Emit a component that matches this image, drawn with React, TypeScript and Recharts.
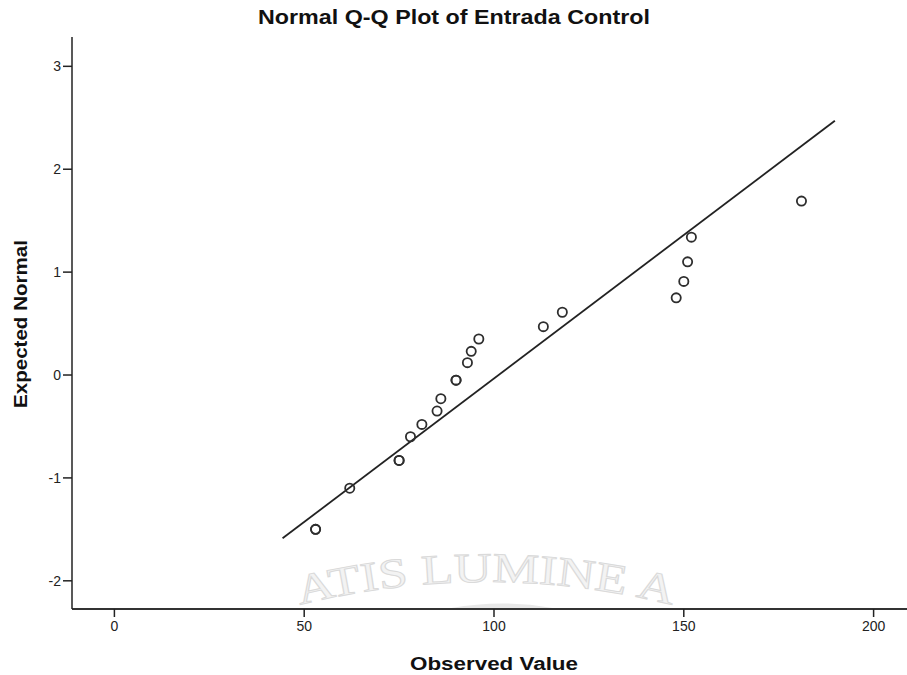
import React from 'react';
import { ScatterChart, Scatter, XAxis, YAxis, Label } from 'recharts';

// Observed values (x) and expected normal values (y)
const observedValues = [53, 53, 62, 75, 75, 78, 81, 85, 86, 90, 90, 93, 94, 96, 113, 118, 148, 150, 151, 152, 181];
const expectedNormal = [-1.5, -1.5, -1.1, -0.83, -0.83, -0.6, -0.48, -0.35, -0.23, -0.05, -0.05, 0.12, 0.23, 0.35, 0.47, 0.61, 0.75, 0.91, 1.1, 1.34, 1.69];

// Reference (fitted normal) line end points
const fitObserved = [44.3, 189.8];
const fitExpected = [-1.587, 2.471];

const xTicks = [0, 50, 100, 150, 200];
const yTicks = [-2, -1, 0, 1, 2, 3];
const xDomain = [-11.17, 208.8];
const yDomain = [-2.274, 3.285];

const title = 'Normal Q-Q Plot of Entrada Control';
const xTitle = 'Observed Value';
const yTitle = 'Expected Normal';
const watermark = 'ATIS LUMINE A';

const points = observedValues.map((x, i) => ({ x, y: expectedNormal[i] }));
const fitLine = fitObserved.map((x, i) => ({ x, y: fitExpected[i] }));

const FONT = '"Liberation Sans", Arial, sans-serif';

const Circle = (props: any) => {
  const { cx, cy } = props;
  if (cx == null || cy == null) return <g />;
  return <circle cx={cx} cy={cy} r={4.6} fill="none" stroke="#2e2e2e" strokeWidth={1.8} />;
};

const NoShape = () => <g />;

const XTick = (props: any) => {
  const { x, y, payload } = props;
  return (
    <text x={x} y={y} dy={12} textAnchor="middle" fontSize={14} fill="#222" fontFamily={FONT}>
      {payload.value}
    </text>
  );
};

const YTick = (props: any) => {
  const { x, y, payload } = props;
  return (
    <text x={x} y={y} dy={5} textAnchor="end" fontSize={14} fill="#222" fontFamily={FONT}>
      {payload.value}
    </text>
  );
};

const XTitle = () => (
  <text x={494} y={670} textAnchor="middle" fontSize={18} fontWeight="bold" fill="#111" fontFamily={FONT}
    textLength={168} lengthAdjust="spacingAndGlyphs">
    {xTitle}
  </text>
);

const YTitle = () => (
  <text x={0} y={0} transform="translate(27,324) rotate(-90)" textAnchor="middle" fontSize={18} fontWeight="bold"
    fill="#111" fontFamily={FONT} textLength={168} lengthAdjust="spacingAndGlyphs">
    {yTitle}
  </text>
);

export default function App() {
  return (
    <div style={{ position: 'absolute', left: 0, top: 0, width: 907, height: 675, background: '#fff', overflow: 'hidden' }}>
      <svg width={907} height={675} style={{ position: 'absolute', left: 0, top: 0 }}>
        <defs>
          <path id="wmArc" d="M 270 613.2 A 763.6 763.6 0 0 1 702 613.2" />
          <clipPath id="wmClip">
            <rect x={72} y={37} width={835} height={571} />
          </clipPath>
        </defs>
        <text x={454} y={24} textAnchor="middle" fontSize={21} fontWeight="bold" fill="#111" fontFamily={FONT}
          textLength={392} lengthAdjust="spacingAndGlyphs">
          {title}
        </text>
        <g clipPath="url(#wmClip)">
          <text fontSize={42} fontFamily='"Liberation Serif", serif' fill="#f3f3f3" stroke="#dadada" strokeWidth={1}>
            <textPath href="#wmArc" startOffset={31} textLength={376} lengthAdjust="spacingAndGlyphs">
              {watermark}
            </textPath>
          </text>
          <path d="M 446 609 Q 502 598 558 609 Z" fill="#e8e8e8" />
        </g>
      </svg>
      <div style={{ position: 'absolute', left: 0, top: 0 }}>
        <ScatterChart width={907} height={675} margin={{ top: 37, right: 0, bottom: 0, left: 0 }}>
          <XAxis
            xAxisId="top"
            orientation="top"
            type="number"
            dataKey="x"
            domain={xDomain}
            allowDataOverflow
            height={0}
            tick={false}
            tickLine={false}
            axisLine={{ stroke: '#7d7d7d', strokeWidth: 2 }}
          />
          <XAxis
            type="number"
            dataKey="x"
            domain={xDomain}
            allowDataOverflow
            ticks={xTicks}
            interval={0}
            height={66}
            tickSize={8}
            tick={<XTick />}
            tickLine={{ stroke: '#222', strokeWidth: 1.5 }}
            axisLine={{ stroke: '#333', strokeWidth: 2 }}
          >
            <Label content={<XTitle />} />
          </XAxis>
          <YAxis
            type="number"
            dataKey="y"
            domain={yDomain}
            allowDataOverflow
            ticks={yTicks}
            interval={0}
            width={72}
            tickSize={9}
            tick={<YTick />}
            tickLine={{ stroke: '#222', strokeWidth: 1.5 }}
            axisLine={{ stroke: '#222', strokeWidth: 1.5 }}
          >
            <Label content={<YTitle />} />
          </YAxis>
          <Scatter
            data={fitLine}
            line={{ stroke: '#222', strokeWidth: 1.8 }}
            shape={<NoShape />}
            isAnimationActive={false}
          />
          <Scatter data={points} shape={<Circle />} isAnimationActive={false} />
        </ScatterChart>
      </div>
    </div>
  );
}
